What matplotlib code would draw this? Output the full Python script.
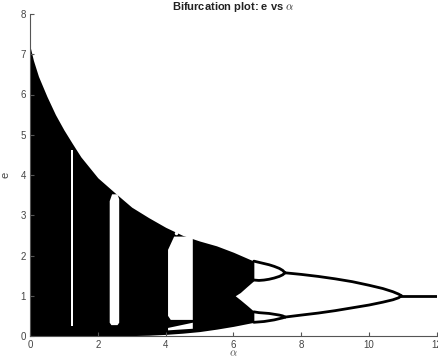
import matplotlib
matplotlib.use("Agg")
import matplotlib.pyplot as plt

plt.rcParams['font.family'] = ['Liberation Sans', 'DejaVu Sans']
plt.rcParams['mathtext.fontset'] = 'cm'

# chaotic band: outer envelope of the attractor
alpha_env = [0.0, 0.1, 0.25, 0.5, 0.75, 1.0, 1.25, 1.5, 2.0, 2.5, 3.0, 3.5,
             4.0, 4.5, 5.0, 5.5, 6.0, 6.3, 6.6]
upper_env = [7.2, 6.85, 6.45, 5.95, 5.5, 5.12, 4.78, 4.45, 3.93, 3.56, 3.2, 2.94,
             2.7, 2.5, 2.36, 2.24, 2.08, 1.97, 1.86]
lower_env = [0.0, 0.0, 0.0, 0.0, 0.0, 0.0, 0.0, 0.0, 0.0, 0.0, 0.01, 0.02,
             0.04, 0.07, 0.11, 0.17, 0.24, 0.29, 0.34]

# gap between the two merged bands
gap_alpha = [6.05, 6.2, 6.4, 6.62]
gap_top = [1.0, 1.08, 1.23, 1.39]
gap_bottom = [1.0, 0.9, 0.76, 0.6]

# periodic windows inside the chaotic band (alpha, e outlines)
win1_alpha = [1.22, 1.27, 1.27, 1.22]
win1_e = [0.25, 0.25, 4.62, 4.62]
win2_alpha = [2.35, 2.42, 2.58, 2.63, 2.63, 2.58, 2.40, 2.35]
win2_e = [3.35, 3.52, 3.52, 3.4, 0.33, 0.27, 0.27, 0.33]
win3_alpha = [4.07, 4.25, 4.80, 4.80, 4.15, 4.07]
win3_e = [2.14, 2.47, 2.47, 0.40, 0.40, 0.50]
win3b_alpha = [4.07, 4.80, 4.80, 4.07]
win3b_e = [0.2, 0.33, 0.18, 0.14]
hole_alpha = [4.31]
hole_e = [2.55]
orbit_alpha = [1.245, 2.5]
orbit_e = [0.1, 0.2]

# period-4 loops
p4_alpha = [6.6, 6.75, 6.9, 7.05, 7.2, 7.35, 7.45, 7.52]
p4_up_top = [1.86, 1.83, 1.80, 1.77, 1.73, 1.68, 1.63, 1.57]
p4_up_bot = [1.39, 1.38, 1.39, 1.41, 1.44, 1.48, 1.52, 1.57]
p4_lo_top = [0.60, 0.58, 0.57, 0.56, 0.54, 0.52, 0.50, 0.47]
p4_lo_bot = [0.34, 0.35, 0.36, 0.38, 0.40, 0.43, 0.45, 0.47]

# period-2 branches and fixed point
p2_alpha = [7.52, 8.0, 8.5, 9.0, 9.5, 10.0, 10.4, 10.7, 10.87, 10.95]
p2_top = [1.57, 1.53, 1.48, 1.42, 1.35, 1.26, 1.18, 1.10, 1.04, 1.0]
p2_bot = [0.47, 0.52, 0.57, 0.63, 0.70, 0.77, 0.84, 0.90, 0.95, 1.0]
fix_alpha = [10.95, 12.0]
fix_e = [1.0, 1.0]

fig = plt.figure(figsize=(4.38, 3.6), dpi=100)
ax = fig.add_axes([30 / 438, 24 / 360, 407 / 438, 322 / 360])

ax.fill_between(alpha_env, lower_env, upper_env, color='black', lw=0, zorder=1)
ax.fill_between(gap_alpha, gap_bottom, gap_top, color='white', lw=0, zorder=2)
for a, e in [(win1_alpha, win1_e), (win2_alpha, win2_e),
             (win3_alpha, win3_e), (win3b_alpha, win3b_e)]:
    ax.fill(a, e, color='white', lw=0, zorder=2)
ax.plot(hole_alpha, hole_e, 'o', color='white', ms=2.5, mec='none', zorder=3)
ax.plot(orbit_alpha, orbit_e, 'o', color='black', ms=2, mec='none', zorder=3)

for branch in [p4_up_top, p4_up_bot, p4_lo_top, p4_lo_bot]:
    ax.plot(p4_alpha, branch, color='black', lw=2.0, solid_capstyle='round', zorder=3)
ax.plot(p2_alpha, p2_top, color='black', lw=2.0, solid_capstyle='round', zorder=3)
ax.plot(p2_alpha, p2_bot, color='black', lw=2.0, solid_capstyle='round', zorder=3)
ax.plot(fix_alpha, fix_e, color='black', lw=2.0, zorder=3)

ax.set_xlim(0, 12)
ax.set_ylim(0, 8)
ax.set_xticks(range(0, 13, 2))
ax.set_yticks(range(0, 9))
for side in ['top', 'right']:
    ax.spines[side].set_visible(False)
for side in ['left', 'bottom']:
    ax.spines[side].set_color('#555555')
    ax.spines[side].set_linewidth(0.8)
ax.tick_params(direction='in', length=3, width=0.8, color='#555555',
               labelcolor='#444444', labelsize=7, pad=3)

ax.set_xlabel(r'$\alpha$', fontsize=8, color='#444444', labelpad=-1)
ax.set_ylabel('e', fontsize=8, color='#444444', labelpad=7)
ax.set_title(r'Bifurcation plot: e vs $\alpha$', fontsize=8, fontweight='bold',
             color='#222222', pad=3)

fig.savefig('out.png', dpi=100)
